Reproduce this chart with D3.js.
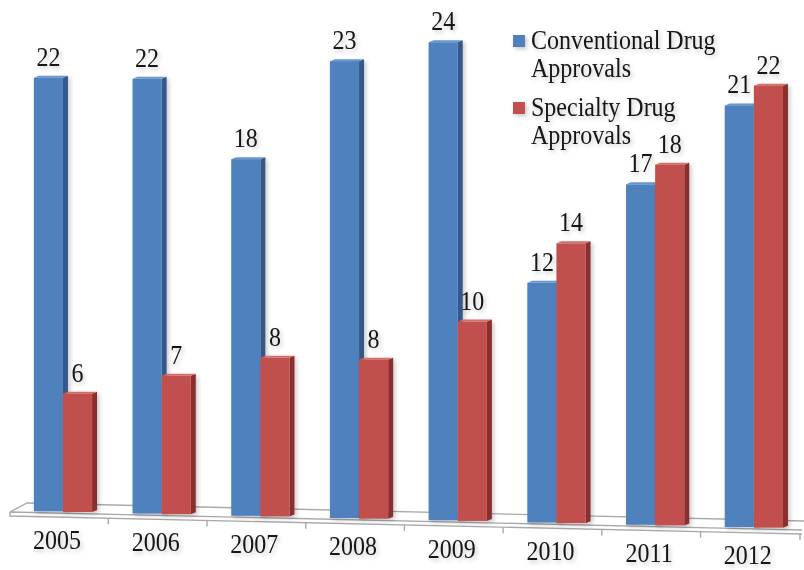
<!DOCTYPE html>
<html>
<head>
<meta charset="utf-8">
<script src="https://cdn.jsdelivr.net/npm/d3@7"></script>
<style>
    html, body { margin: 0; padding: 0; background: #fff; }
    svg text { font-family: "Liberation Serif", "Times New Roman", serif; fill: #141414; }
</style>
</head>
<body>
<svg id="chart" width="804" height="570"></svg>
<script>
var years = ['2005', '2006', '2007', '2008', '2009', '2010', '2011', '2012'];
var conventional = [22, 22, 18, 23, 24, 12, 17, 21];
var specialty = [6, 7, 8, 8, 10, 14, 18, 22];
var seriesNames = ['Conventional Drug Approvals', 'Specialty Drug Approvals'];

(function (d3, undefined) {
    'use strict';

    var depthX = 5,
    depthY = -2,
    stretch = 1.15; // the original text is a bit taller than wide

    var colors = [
        { front: '#4f81bd', side: '#34598a', top: '#6a96cf' },
        { front: '#c0504d', side: '#8a2f2d', top: '#d26d6a' }
    ];

    var svg = d3.select('#chart');

    var defs = svg.append('defs');
    var shadow = defs.append('filter')
        .attr('id', 'soft')
        .attr('x', '-20%').attr('y', '-20%')
        .attr('width', '150%').attr('height', '150%');
    shadow.append('feDropShadow')
        .attr('dx', 2).attr('dy', 2)
        .attr('stdDeviation', 2)
        .attr('flood-color', '#000')
        .attr('flood-opacity', 0.22);

    function place(x, y) {
        return 'translate(' + x + ',' + y + ') scale(1,' + stretch + ')';
    }

    // groups along x
    var x0 = d3.scaleBand()
        .domain(years)
        .range([13.6, 803.2])
        .paddingInner(0.41)
        .paddingOuter(0.205);

    var x1 = d3.scaleBand()
        .domain([0, 1])
        .range([0, x0.bandwidth()]);

    // the floor is tilted, bars stand on it
    var base = d3.scaleLinear().domain([34, 783]).range([511, 528]);
    var unit = d3.scaleLinear().domain([34, 783]).range([19.7, 20.1]);
    var y = d3.scaleLinear().domain([0, 1]).range([0, 1]);

    // floor
    var floor = svg.append('g')
        .attr('fill', 'none')
        .attr('stroke', '#a9a9a9')
        .attr('stroke-width', 1.4);

    var fl = 10, fr = 802;
    var front = d3.scaleLinear().domain([fl, fr]).range([512, 530]);
    var back = d3.scaleLinear().domain([fl, fr]).range([503, 521]);

    floor.append('path')
        .attr('d', 'M' + fl + ',' + front(fl) +
            'L' + (fl + 17) + ',' + back(fl) +
            'L' + (fr + 4) + ',' + back(fr) +
            'M' + fl + ',' + front(fl) +
            'L' + fr + ',' + front(fr) +
            'M' + fl + ',' + front(fl) +
            'L' + fl + ',' + (front(fl) + 4) +
            'L' + fr + ',' + (front(fr) + 4));

    var tickXs = years.slice(1).map(function (yr) { return x0(yr) - x0.step() * 0.205 - 4; });
    tickXs.push(fr - 2);

    floor.selectAll('.tick')
        .data(tickXs)
        .enter()
        .append('line')
        .attr('x1', function (d) { return d; })
        .attr('x2', function (d) { return d; })
        .attr('y1', function (d) { return front(d) + 4; })
        .attr('y2', function (d) { return front(d) + 10; });

    // bars
    var cells = [];
    years.forEach(function (yr, i) {
        [conventional[i], specialty[i]].forEach(function (v, s) {
            var xl = x0(yr) + x1(s),
            w = x1.bandwidth(),
            cx = xl + w / 2,
            b = base(cx),
            h = y(v) * unit(cx);
            cells.push({ year: yr, s: s, v: v, x: xl, w: w, b: b, top: b - h });
        });
    });

    var bars = svg.append('g').attr('class', 'bars');

    var bar = bars.selectAll('.bar')
        .data(cells)
        .enter()
        .append('g')
        .attr('class', 'bar')
        .attr('filter', 'url(#soft)');

    bar.append('path')
        .attr('fill', function (d) { return colors[d.s].side; })
        .attr('d', function (d) {
            var r = d.x + d.w;
            return 'M' + r + ',' + d.top +
                'L' + (r + depthX) + ',' + (d.top + depthY) +
                'L' + (r + depthX) + ',' + (d.b + depthY) +
                'L' + r + ',' + d.b + 'Z';
        });

    bar.append('path')
        .attr('fill', function (d) { return colors[d.s].top; })
        .attr('d', function (d) {
            var r = d.x + d.w;
            return 'M' + d.x + ',' + d.top +
                'L' + (d.x + depthX) + ',' + (d.top + depthY) +
                'L' + (r + depthX) + ',' + (d.top + depthY) +
                'L' + r + ',' + d.top + 'Z';
        });

    bar.append('rect')
        .attr('fill', function (d) { return colors[d.s].front; })
        .attr('x', function (d) { return d.x; })
        .attr('y', function (d) { return d.top; })
        .attr('width', function (d) { return d.w; })
        .attr('height', function (d) { return d.b - d.top; });

    // value labels
    svg.append('g')
        .selectAll('text')
        .data(cells)
        .enter()
        .append('text')
        .attr('filter', 'url(#soft)')
        .attr('text-anchor', 'middle')
        .attr('font-size', 24)
        .attr('transform', function (d) { return place(d.x + d.w / 2, d.top - 12); })
        .text(function (d) { return d.v; });

    // year labels
    svg.append('g')
        .selectAll('text')
        .data(years)
        .enter()
        .append('text')
        .attr('filter', 'url(#soft)')
        .attr('text-anchor', 'middle')
        .attr('font-size', 24)
        .attr('transform', function (d) {
            var c = x0(d) + x0.bandwidth() / 2;
            return place(c - 6, base(c) + 37);
        })
        .text(function (d) { return d; });

    // legend
    var legend = svg.append('g').attr('class', 'legend');
    var legendRows = [
        { s: 0, y: 35, lines: ['Conventional Drug', 'Approvals'] },
        { s: 1, y: 102, lines: ['Specialty Drug', 'Approvals'] }
    ];

    var item = legend.selectAll('g')
        .data(legendRows)
        .enter()
        .append('g')
        .attr('filter', 'url(#soft)');

    item.append('rect')
        .attr('x', 513)
        .attr('y', function (d) { return d.y; })
        .attr('width', 12)
        .attr('height', 12)
        .attr('fill', function (d) { return colors[d.s].front; });

    item.append('text')
        .attr('font-size', 24)
        .attr('transform', function (d) { return place(531, d.y + 14); })
        .selectAll('tspan')
        .data(function (d) { return d.lines; })
        .enter()
        .append('tspan')
        .attr('x', 0)
        .attr('dy', function (d, i) { return i === 0 ? 0 : 28 / stretch; })
        .text(function (d) { return d; });

    console.log(seriesNames);
})(d3);
</script>
</body>
</html>
